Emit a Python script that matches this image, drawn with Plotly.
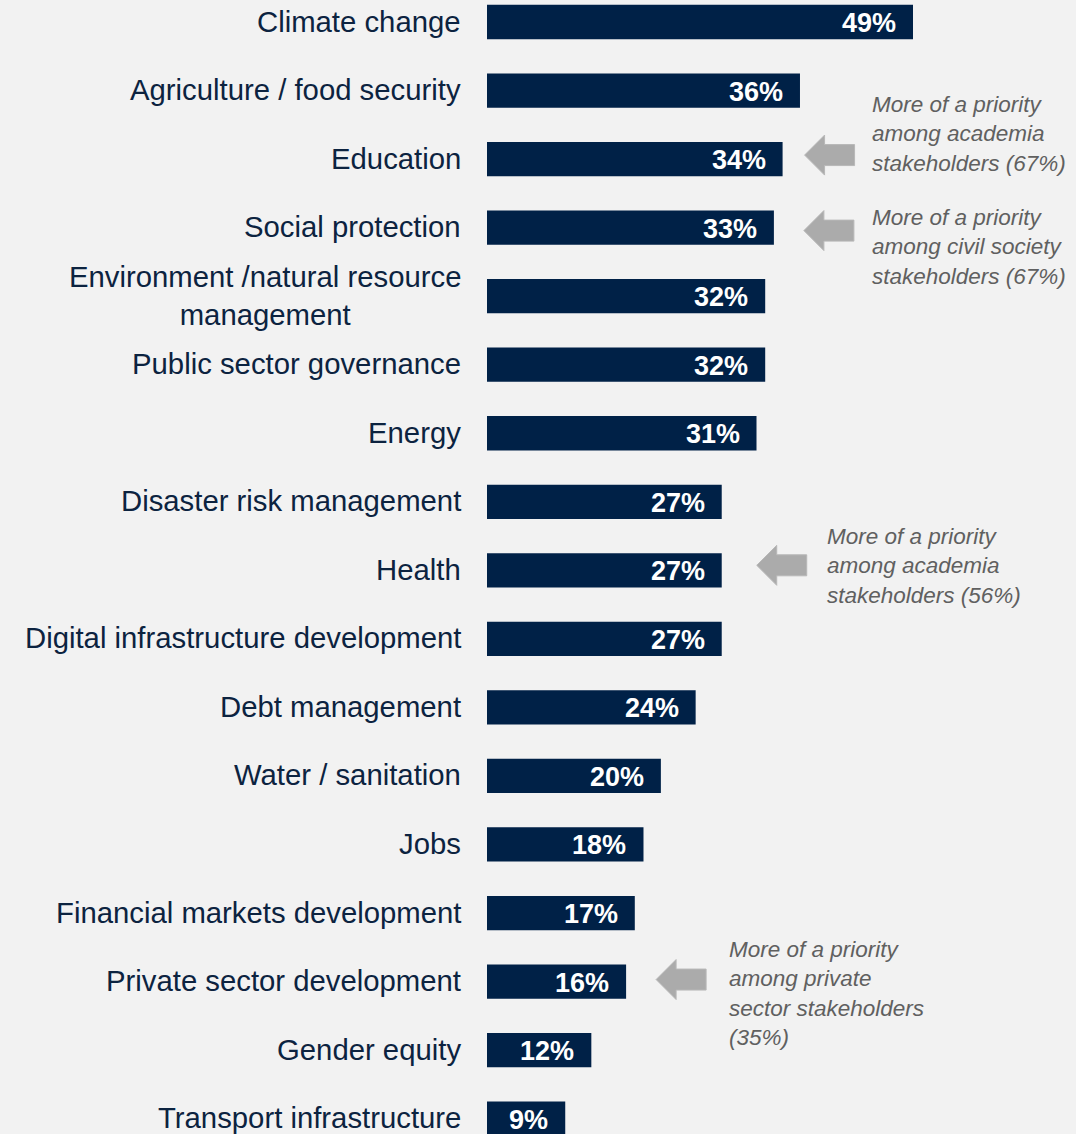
import plotly.graph_objects as go

# Share of respondents naming each area a development priority
categories = [
    "Climate change",
    "Agriculture / food security",
    "Education",
    "Social protection",
    "Environment /natural resource<br>management",
    "Public sector governance",
    "Energy",
    "Disaster risk management",
    "Health",
    "Digital infrastructure development",
    "Debt management",
    "Water / sanitation",
    "Jobs",
    "Financial markets development",
    "Private sector development",
    "Gender equity",
    "Transport infrastructure",
]
values = [49, 36, 34, 33, 32, 32, 31, 27, 27, 27, 24, 20, 18, 17, 16, 12, 9]

# Call-out notes next to selected bars
note_rows = [2, 3, 8, 14]
note_texts = [
    "More of a priority<br>among academia<br>stakeholders (67%)",
    "More of a priority<br>among civil society<br>stakeholders (67%)",
    "More of a priority<br>among academia<br>stakeholders (56%)",
    "More of a priority<br>among private<br>sector stakeholders<br>(35%)",
]
# pixel offsets (from bar end / bar centre) for arrow tip, arrow y, text x, text y
arrow_dx = [22, 30, 35, 30]
arrow_dy = [4, -3, 5, 2]
text_dx = [87, 96, 103, 101]
text_dy = [25, -19, 4, -12]

NAVY = "#002147"
BG = "#f2f2f2"
W, H = 1076, 1134
LEFT = 487

idx = list(range(len(categories)))

fig = go.Figure(
    go.Bar(
        x=values,
        y=idx,
        orientation="h",
        width=0.5,
        marker=dict(color=NAVY, line=dict(width=0)),
        hoverinfo="skip",
    )
)

annotations = []
# category labels, right-aligned next to the bars
for i, c in zip(idx, categories):
    annotations.append(dict(
        x=0, y=i, xref="x", yref="y", text=c, showarrow=False,
        xanchor="right", yanchor="middle", xshift=-24, yshift=1, align="center",
        font=dict(family="Liberation Sans, Arial, sans-serif", size=29.3, color="#0c2340"),
    ))
# value labels inside bar ends
for i, v in zip(idx, values):
    annotations.append(dict(
        x=v, y=i, xref="x", yref="y", text=f"<b>{v}%</b>", showarrow=False,
        xanchor="right", yanchor="middle", xshift=-15, yshift=-1,
        font=dict(family="Liberation Sans, Arial, sans-serif", size=27, color="white"),
    ))

shapes = []
for r, txt, adx, ady, tdx, tdy in zip(note_rows, note_texts, arrow_dx, arrow_dy, text_dx, text_dy):
    v = values[r]
    # block arrow pointing left toward the bar
    pts = [(0, 0), (20, 20), (20, 10.5), (50, 10.5), (50, -10.5), (20, -10.5), (20, -20)]
    path = "M " + " L ".join(f"{x + adx},{y + ady}" for x, y in pts) + " Z"
    shapes.append(dict(
        type="path", xref="x", yref="y", xsizemode="pixel", ysizemode="pixel",
        xanchor=v, yanchor=r, path=path,
        fillcolor="#ababab", line=dict(color="#b8b8b8", width=1), layer="above",
    ))
    annotations.append(dict(
        x=v, y=r, xref="x", yref="y", text=f"<i>{txt}</i>", showarrow=False,
        xanchor="left", yanchor="middle", xshift=tdx, yshift=tdy, align="left",
        font=dict(family="Liberation Sans, Arial, sans-serif", size=22.5, color="#606060"),
    ))

px_per_unit = 426 / 49
pitch = 68.54
first_center = 22

fig.update_layout(
    width=W, height=H,
    margin=dict(l=LEFT, r=0, t=0, b=0),
    paper_bgcolor=BG, plot_bgcolor=BG,
    showlegend=False,
    xaxis=dict(range=[0, (W - LEFT) / px_per_unit], visible=False, fixedrange=True),
    yaxis=dict(
        range=[(H - first_center) / pitch, -first_center / pitch],
        visible=False, fixedrange=True,
    ),
    annotations=annotations,
    shapes=shapes,
)

fig.write_html("out.html", config={"displayModeBar": False})
